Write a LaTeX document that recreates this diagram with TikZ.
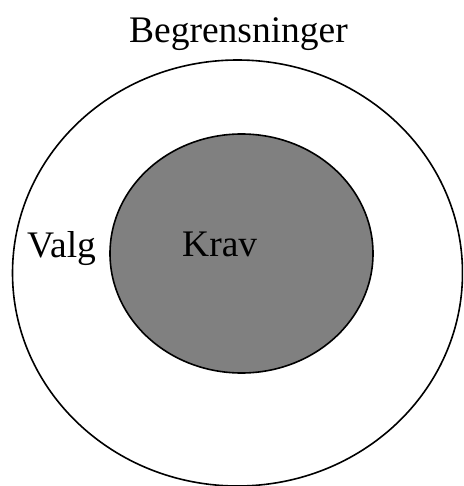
\documentclass[tikz,border=0pt]{standalone}
\usepackage{fontspec}
\setmainfont{Liberation Serif}
\begin{document}
\begin{tikzpicture}[x=1pt,y=-1pt,
  ring/.style={draw=black,line width=1.6pt},
  label/.style={inner sep=0pt,font=\fontsize{37.5}{42}\selectfont}]
  \useasboundingbox (0,0) rectangle (463,486);
  \clip (0,0) rectangle (463,486);
  % outer region: choices
  \draw[ring,fill=white] (237.5,273) ellipse [x radius=225, y radius=213];
  % inner region: requirements
  \draw[ring,fill={rgb,255:red,128;green,128;blue,128}] (241.5,253.5) ellipse [x radius=131.5, y radius=119.5];
  \node[label,anchor=base] (begr) at (238.5,43) {Begrensninger};
  \node[label,anchor=base west] (valg) at (27,257) {Valg};
  \node[label,anchor=base west] (krav) at (182,256) {Krav};
\end{tikzpicture}
\end{document}
